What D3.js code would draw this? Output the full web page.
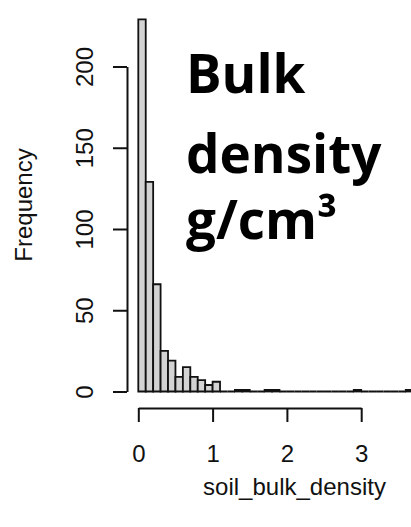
<!DOCTYPE html>
<html lang="en">
<head>
    <meta charset="UTF-8">
    <script src="https://d3js.org/d3.v7.min.js"></script>
    <title>soil_bulk_density</title>
    <style>
        body { margin: 0; background: #fff; }
        svg { display: block; }
        .axis text { font-family: "Liberation Sans", Arial, sans-serif; font-size: 24px; fill: #111; }
        .axis path, .axis line { stroke: #111; stroke-width: 2; }
    </style>
</head>
<body>
    <svg id="chart" width="411" height="527"></svg>
    <script>
        // histogram bins of width 0.1 starting at 0
        const binWidth = 0.1;
        const counts = [229, 129, 66, 25, 19, 9, 15, 9, 7, 4, 6, 0, 0, 1, 1, 0, 0, 1, 1,
            0, 0, 0, 0, 0, 0, 0, 0, 0, 0, 1, 0, 0, 0, 0, 0, 0, 1];
        const xTicks = [0, 1, 2, 3];
        const yTicks = [0, 50, 100, 150, 200];
        const titleLines = ["Bulk", "density", "g/cm\u00B3"];

        const bins = counts.map((c, i) => ({ x0: i * binWidth, x1: (i + 1) * binWidth, n: c }));

        const svg = d3.select("#chart");
        const x = d3.scaleLinear().domain([0, 3]).range([138.3, 361.2]);
        const y = d3.scaleLinear().domain([0, 200]).range([391.5, 66.5]);

        // bars, drawn as outlines so empty bins still show on the baseline
        svg.append("g").selectAll("path")
            .data(bins)
            .enter().append("path")
            .attr("d", d => {
                const p = d3.path();
                p.moveTo(x(d.x0), y(0));
                p.lineTo(x(d.x0), y(d.n));
                p.lineTo(x(d.x1), y(d.n));
                p.lineTo(x(d.x1), y(0));
                p.closePath();
                return p.toString();
            })
            .attr("fill", "#d3d3d3")
            .attr("stroke", "#111")
            .attr("stroke-width", 1.8);

        // y axis, R style (labels turned)
        const yAxis = svg.append("g")
            .attr("class", "axis")
            .attr("transform", "translate(127,0)")
            .call(d3.axisLeft(y).tickValues(yTicks).tickSize(14).tickSizeOuter(0));
        yAxis.selectAll("text")
            .attr("x", null).attr("dy", null)
            .attr("text-anchor", "middle")
            .attr("transform", "translate(-34,0) rotate(-90)");

        // x axis sits below the bars
        svg.append("g")
            .attr("class", "axis")
            .attr("transform", "translate(0,408)")
            .call(d3.axisBottom(x).tickValues(xTicks).tickFormat(d3.format("d")).tickSize(14).tickSizeOuter(0))
            .selectAll("text")
            .attr("dy", null)
            .attr("y", 54);

        // axis titles
        svg.append("text")
            .attr("transform", "translate(32,205) rotate(-90)")
            .attr("text-anchor", "middle")
            .style("font-family", "'Liberation Sans', Arial, sans-serif")
            .style("font-size", "24px")
            .attr("fill", "#111")
            .text("Frequency");

        svg.append("text")
            .attr("x", 294.5)
            .attr("y", 495)
            .attr("text-anchor", "middle")
            .style("font-family", "'Liberation Sans', Arial, sans-serif")
            .style("font-size", "24px")
            .attr("fill", "#111")
            .text("soil_bulk_density");

        // big overlaid title
        const baselines = [93, 173, 239];
        svg.append("g").selectAll("text")
            .data(titleLines)
            .enter().append("text")
            .attr("x", 186)
            .attr("y", (d, i) => baselines[i])
            .style("font-family", "'Open Sans', sans-serif")
            .style("font-weight", "700")
            .style("font-size", "53px")
            .attr("fill", "#000")
            .text(d => d);
    </script>
</body>
</html>
